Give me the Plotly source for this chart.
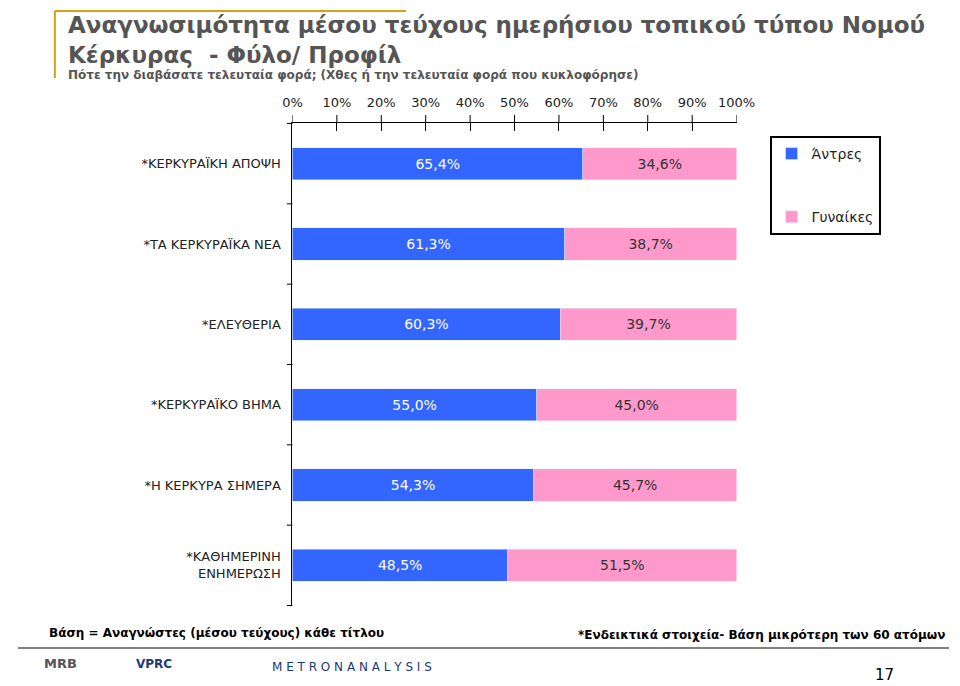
import plotly.graph_objects as go

categories = ["*ΚΕΡΚΥΡΑΪΚΗ ΑΠΟΨΗ", "*ΤΑ ΚΕΡΚΥΡΑΪΚΑ ΝΕΑ", "*ΕΛΕΥΘΕΡΙΑ", "*ΚΕΡΚΥΡΑΪΚΟ ΒΗΜΑ",
              "*Η ΚΕΡΚΥΡΑ ΣΗΜΕΡΑ", "*ΚΑΘΗΜΕΡΙΝΗ<br>ΕΝΗΜΕΡΩΣΗ"]
men = [65.4, 61.3, 60.3, 55.0, 54.3, 48.5]
women = [34.6, 38.7, 39.7, 45.0, 45.7, 51.5]
tick_vals = [0, 10, 20, 30, 40, 50, 60, 70, 80, 90, 100]
tick_text = [f"{v}%" for v in tick_vals]

def lab(v):
    return f"{v:.1f}%".replace(".", ",")

fig = go.Figure()
fig.add_trace(go.Bar(y=categories, x=men, orientation="h", name="Άντρες", legendgroup="m",
                     marker=dict(color="#3366FF"), width=0.4,
                     text=[lab(v) for v in men], textposition="inside",
                     insidetextanchor="middle", textfont=dict(color="white", size=14)))
fig.add_trace(go.Bar(y=categories, x=women, orientation="h", name="Γυναίκες", legendgroup="w",
                     marker=dict(color="#FF99CC"), width=0.4,
                     text=[lab(v) for v in women], textposition="inside",
                     insidetextanchor="middle", textfont=dict(color="#333333", size=14)))

fig.update_layout(
    width=960, height=686, barmode="stack", plot_bgcolor="white", paper_bgcolor="white",
    font=dict(family="DejaVu Sans", color="#222222", size=13),
    margin=dict(l=0, r=0, t=0, b=0),
    xaxis=dict(domain=[283/960, 741/960], range=[0, 100], side="top", tickvals=tick_vals,
               ticktext=tick_text, showgrid=False, showline=True, linecolor="black",
               ticks="inside", tickcolor="black", ticklen=8, zeroline=False,
               tickfont=dict(size=13), ticklabelstandoff=10),
    yaxis=dict(domain=[(686-598)/686, (686-115)/686], autorange="reversed",
               showline=True, linecolor="black", ticks="", showgrid=False,
               tickfont=dict(size=13), ticklabelstandoff=8),
    showlegend=True,
    legend=dict(x=775/960, y=1-128/686, xanchor="left", yanchor="top", traceorder="grouped",
                bordercolor="black", borderwidth=2, font=dict(size=14),
                tracegroupgap=42, itemwidth=30),
    uniformtext=dict(mode="show", minsize=10),
)
for i in range(7):
    fig.add_shape(type="line", xref="paper", yref="y", x0=283/960 - 0.006, x1=283/960,
                  y0=i - 0.5, y1=i - 0.5, line=dict(color="black", width=1))
for v in tick_vals:
    fig.add_shape(type="line", xref="x", yref="paper", x0=v, x1=v,
                  y0=1-(115-8)/686, y1=1-115/686, line=dict(color="black", width=1))

fig.add_annotation(x=50/960, y=1-2/686, xref="paper", yref="paper", xanchor="left", yanchor="top",
                   align="left", showarrow=False,
                   text="<b>Αναγνωσιμότητα μέσου τεύχους ημερήσιου τοπικού τύπου Νομού<br>Κέρκυρας  - Φύλο/ Προφίλ</b>",
                   font=dict(size=23, color="#555555", family="DejaVu Sans"))
fig.add_annotation(x=50/960, y=1-58/686, xref="paper", yref="paper", xanchor="left", yanchor="top",
                   showarrow=False,
                   text="<b>Πότε την διαβάσατε τελευταία φορά; (Χθες ή την τελευταία φορά που κυκλοφόρησε)</b>",
                   font=dict(size=12, color="#555555"))
fig.add_shape(type="line", xref="paper", yref="paper", x0=38/960, x1=38/960, y0=1-70/686, y1=1-3/686,
              line=dict(color="#D4A017", width=2))
fig.add_shape(type="line", xref="paper", yref="paper", x0=38/960, x1=400/960, y0=1-3/686, y1=1-3/686,
              line=dict(color="#D4A017", width=2))
fig.add_annotation(x=30/960, y=1-625/686, xref="paper", yref="paper", xanchor="left", yanchor="middle",
                   showarrow=False, text="<b>Βάση = Αναγνώστες (μέσου τεύχους) κάθε τίτλου</b>",
                   font=dict(size=12, color="black"))
fig.add_annotation(x=958/960, y=1-627/686, xref="paper", yref="paper", xanchor="right", yanchor="middle",
                   showarrow=False, text="<b>*Ενδεικτικά στοιχεία- Βάση μικρότερη των 60 ατόμων</b>",
                   font=dict(size=12, color="black"))
fig.add_shape(type="line", xref="paper", yref="paper", x0=0, x1=1, y0=1-640/686, y1=1-640/686,
              line=dict(color="black", width=1))
fig.add_annotation(x=25/960, y=1-665/686, xref="paper", yref="paper", showarrow=False,
                   text="<b>MRB</b>", font=dict(size=13, color="#555555"))
fig.add_annotation(x=120/960, y=1-665/686, xref="paper", yref="paper", showarrow=False,
                   text="<b>VPRC</b>", font=dict(size=12, color="#1a3a7a"))
fig.add_annotation(x=260/960, y=1-668/686, xref="paper", yref="paper", showarrow=False,
                   text="M E T R O N A N A L Y S I S", font=dict(size=12, color="#1a3a7a"))
fig.add_annotation(x=905/960, y=1-678/686, xref="paper", yref="paper", showarrow=False,
                   text="17", font=dict(size=15, color="black"))
fig.write_html("out.html")
